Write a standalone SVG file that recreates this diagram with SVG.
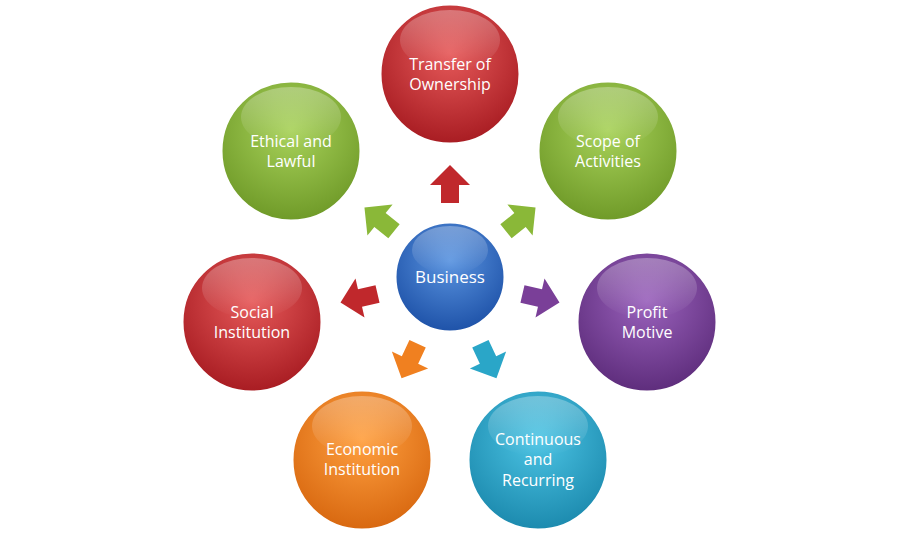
<svg xmlns="http://www.w3.org/2000/svg" width="900" height="543" viewBox="0 0 900 543">
<defs>
<radialGradient id="gr" cx="0.5" cy="0.35" r="0.65"><stop offset="0" stop-color="#e65a5a"/><stop offset="1" stop-color="#a81c22"/></radialGradient>
<radialGradient id="gg" cx="0.5" cy="0.35" r="0.65"><stop offset="0" stop-color="#a8d25a"/><stop offset="1" stop-color="#6f9a28"/></radialGradient>
<radialGradient id="gp" cx="0.5" cy="0.35" r="0.65"><stop offset="0" stop-color="#9a62bc"/><stop offset="1" stop-color="#5e2d7c"/></radialGradient>
<radialGradient id="gt" cx="0.5" cy="0.35" r="0.65"><stop offset="0" stop-color="#4cc4e4"/><stop offset="1" stop-color="#1c8aae"/></radialGradient>
<radialGradient id="go" cx="0.5" cy="0.35" r="0.65"><stop offset="0" stop-color="#ffa040"/><stop offset="1" stop-color="#d86810"/></radialGradient>
<radialGradient id="gb" cx="0.5" cy="0.35" r="0.65"><stop offset="0" stop-color="#5a94e0"/><stop offset="1" stop-color="#1e52a8"/></radialGradient>
<linearGradient id="hl" x1="0" y1="0" x2="0" y2="1"><stop offset="0" stop-color="#fff" stop-opacity="0.3"/><stop offset="1" stop-color="#fff" stop-opacity="0"/></linearGradient>
<path id="arr" d="M0,-20 L20,0 L9,0 L9,18 L-9,18 L-9,0 L-20,0 Z"/>
</defs>
<style>
.c{stroke:#fff;stroke-width:3}
.h{fill:url(#hl)}
.t{font-family:"Open Sans","Liberation Sans",sans-serif;font-size:16px;fill:#fff;text-anchor:middle}
</style>
<g id="connectors">
<use href="#arr" fill="#c0282c" transform="translate(450,185)"/>
<use href="#arr" fill="#8ab838" transform="translate(520,220) rotate(51)"/>
<use href="#arr" fill="#7a3f98" transform="translate(540,298) rotate(103)"/>
<use href="#arr" fill="#2aa6c8" transform="translate(488,360) rotate(155)"/>
<use href="#arr" fill="#f08020" transform="translate(410,360) rotate(-155)"/>
<use href="#arr" fill="#c0282c" transform="translate(360,298) rotate(-103)"/>
<use href="#arr" fill="#8ab838" transform="translate(380,220) rotate(-51)"/>
</g>
<g id="business"><circle class="c" cx="450" cy="277" r="55" fill="url(#gb)"/><ellipse class="h" cx="450" cy="250" rx="38" ry="24"/><text class="t" x="450" y="283" style="font-size:17px">Business</text></g>
<g id="transfer"><circle class="c" cx="450" cy="74" r="70" fill="url(#gr)"/><ellipse class="h" cx="450" cy="40" rx="50" ry="30"/><text class="t" x="450" y="70">Transfer of</text><text class="t" x="450" y="90">Ownership</text></g>
<g id="scope"><circle class="c" cx="608" cy="151" r="70" fill="url(#gg)"/><ellipse class="h" cx="608" cy="117" rx="50" ry="30"/><text class="t" x="608" y="147">Scope of</text><text class="t" x="608" y="167">Activities</text></g>
<g id="profit"><circle class="c" cx="647" cy="322" r="70" fill="url(#gp)"/><ellipse class="h" cx="647" cy="288" rx="50" ry="30"/><text class="t" x="647" y="318">Profit</text><text class="t" x="647" y="338">Motive</text></g>
<g id="continuous"><circle class="c" cx="538" cy="460" r="70" fill="url(#gt)"/><ellipse class="h" cx="538" cy="426" rx="50" ry="30"/><text class="t" x="538" y="445">Continuous</text><text class="t" x="538" y="465">and</text><text class="t" x="538" y="486">Recurring</text></g>
<g id="economic"><circle class="c" cx="362" cy="460" r="70" fill="url(#go)"/><ellipse class="h" cx="362" cy="426" rx="50" ry="30"/><text class="t" x="362" y="455">Economic</text><text class="t" x="362" y="475">Institution</text></g>
<g id="social"><circle class="c" cx="252" cy="322" r="70" fill="url(#gr)"/><ellipse class="h" cx="252" cy="288" rx="50" ry="30"/><text class="t" x="252" y="318">Social</text><text class="t" x="252" y="338">Institution</text></g>
<g id="ethical"><circle class="c" cx="291" cy="151" r="70" fill="url(#gg)"/><ellipse class="h" cx="291" cy="117" rx="50" ry="30"/><text class="t" x="291" y="147">Ethical and</text><text class="t" x="291" y="167">Lawful</text></g>
</svg>
